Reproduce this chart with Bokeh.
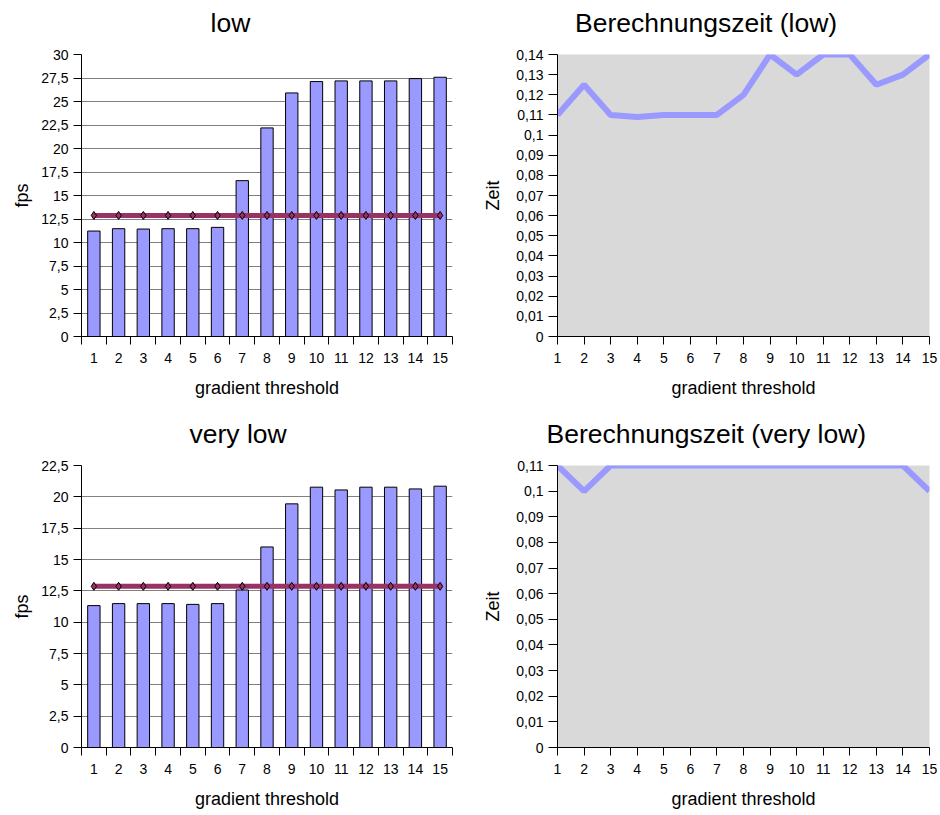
from bokeh.plotting import figure
from bokeh.models import FixedTicker, CustomJSTickFormatter, Title, Range1d
from bokeh.layouts import column, row
from bokeh.embed import file_html
from bokeh.resources import INLINE

FONT = "Liberation Sans"

thresholds = [1, 2, 3, 4, 5, 6, 7, 8, 9, 10, 11, 12, 13, 14, 15]

fps_low = [11.22, 11.47, 11.43, 11.47, 11.47, 11.61, 16.58, 22.19, 25.91,
           27.12, 27.19, 27.19, 27.19, 27.44, 27.58]
ref_low = [12.88, 12.88, 12.88, 12.88, 12.88, 12.88, 12.88, 12.88, 12.88,
           12.88, 12.88, 12.88, 12.88, 12.88, 12.88]

fps_very_low = [11.32, 11.48, 11.48, 11.48, 11.42, 11.48, 12.57, 16.0, 19.44,
                20.77, 20.55, 20.77, 20.77, 20.63, 20.85]
ref_very_low = [12.86, 12.86, 12.86, 12.86, 12.86, 12.86, 12.86, 12.86, 12.86,
                12.86, 12.86, 12.86, 12.86, 12.86, 12.86]

time_low = [0.11, 0.125, 0.11, 0.109, 0.11, 0.11, 0.11, 0.12, 0.14, 0.13,
            0.14, 0.14, 0.125, 0.13, 0.14]
time_very_low = [0.11, 0.10, 0.11, 0.11, 0.11, 0.11, 0.11, 0.11, 0.11, 0.11,
                 0.11, 0.11, 0.11, 0.11, 0.10]

fps_ticks_low = [0, 2.5, 5, 7.5, 10, 12.5, 15, 17.5, 20, 22.5, 25, 27.5, 30]
fps_ticks_very_low = [0, 2.5, 5, 7.5, 10, 12.5, 15, 17.5, 20, 22.5]
time_ticks_low = [0, 0.01, 0.02, 0.03, 0.04, 0.05, 0.06, 0.07, 0.08, 0.09,
                  0.1, 0.11, 0.12, 0.13, 0.14]
time_ticks_very_low = [0, 0.01, 0.02, 0.03, 0.04, 0.05, 0.06, 0.07, 0.08,
                       0.09, 0.1, 0.11]
bar_boundaries = [0.5, 1.5, 2.5, 3.5, 4.5, 5.5, 6.5, 7.5, 8.5, 9.5, 10.5,
                  11.5, 12.5, 13.5, 14.5, 15.5]

BAR_COLOR = "#9999FF"
REF_COLOR = "#993366"
BG_GRAY = "#D9D9D9"
SHIFT = 14

fmt_code = "return (Math.round(tick*1000)/1000).toString().replace('.', ',');"


def style_axes(p):
    for ax in (p.xaxis[0], p.yaxis[0]):
        ax.axis_line_color = "black"
        ax.major_tick_line_color = "black"
        ax.minor_tick_line_color = "black"
        ax.major_label_text_font = FONT
        ax.major_label_text_font_size = "14px"
        ax.major_label_text_color = "black"
        ax.axis_label_text_font = FONT
        ax.axis_label_text_font_size = "18px"
        ax.axis_label_text_font_style = "normal"
        ax.axis_label_text_color = "black"
        ax.major_tick_in = 0
        ax.minor_tick_in = 0
    p.yaxis[0].formatter = CustomJSTickFormatter(code=fmt_code)
    p.yaxis[0].major_tick_out = 8
    p.yaxis[0].minor_tick_out = 0
    p.yaxis[0].major_label_standoff = 5


def add_title(p, text, offset):
    p.add_layout(Title(text=text, align="left", offset=offset,
                       standoff=33, text_font=FONT,
                       text_font_size="26.5px", text_font_style="normal",
                       text_color="black"), "above")


def bar_chart(values, refs, yticks, ymax, height, top, bottom):
    p = figure(width=470, height=height + SHIFT, x_range=Range1d(0.5, 15.5),
               y_range=Range1d(0, ymax), output_backend="svg",
               toolbar_location=None, min_border_left=81, min_border_right=18,
               min_border_top=top + SHIFT, min_border_bottom=bottom,
               outline_line_color=None, border_fill_color=None,
               background_fill_color="white", margin=(-SHIFT, 0, 0, 0))
    p.vbar(x=thresholds, top=values, width=0.5, fill_color=BAR_COLOR,
           line_color="black", line_width=1)
    p.line(x=thresholds, y=refs, line_color=REF_COLOR, line_width=5)
    p.scatter(x=thresholds, y=refs, marker="diamond", size=8,
              fill_color=REF_COLOR, line_color="black", line_width=1)
    p.xgrid.visible = False
    p.ygrid.ticker = FixedTicker(ticks=yticks)
    p.ygrid.grid_line_color = "#808080"
    p.ygrid.grid_line_width = 1
    style_axes(p)
    p.xaxis.ticker = FixedTicker(ticks=thresholds, minor_ticks=bar_boundaries)
    p.xaxis.major_tick_out = 0
    p.xaxis.minor_tick_out = 8
    p.xaxis.major_label_standoff = 8
    p.xaxis.axis_label = "gradient threshold"
    p.xaxis.axis_label_standoff = 12
    p.yaxis.ticker = FixedTicker(ticks=yticks)
    p.yaxis.axis_label = "fps"
    p.yaxis.axis_label_standoff = 6
    return p


def line_chart(values, yticks, ymax, height, top, bottom):
    p = figure(width=470, height=height + SHIFT, x_range=Range1d(1, 15),
               y_range=Range1d(0, ymax), output_backend="svg",
               toolbar_location=None, min_border_left=87, min_border_right=11,
               min_border_top=top + SHIFT, min_border_bottom=bottom,
               outline_line_color=None, border_fill_color=None,
               background_fill_color=BG_GRAY, margin=(-SHIFT, 0, 0, 0))
    p.line(x=thresholds, y=values, line_color=BAR_COLOR, line_width=6)
    p.xgrid.visible = False
    p.ygrid.visible = False
    style_axes(p)
    p.xaxis.ticker = FixedTicker(ticks=thresholds)
    p.xaxis.major_tick_out = 8
    p.xaxis.minor_tick_out = 0
    p.xaxis.major_label_standoff = 8
    p.xaxis.axis_label = "gradient threshold"
    p.xaxis.axis_label_standoff = 12
    p.yaxis.ticker = FixedTicker(ticks=yticks)
    p.yaxis.major_tick_out = 9
    p.yaxis.axis_label = "Zeit"
    p.yaxis.axis_label_standoff = 10
    return p


p1 = bar_chart(fps_low, ref_low, fps_ticks_low, 30, 408, 54, 72)
add_title(p1, "low", 129)
p2 = line_chart(time_low, time_ticks_low, 0.14, 408, 54, 72)
add_title(p2, "Berechnungszeit (low)", 17.5)
p3 = bar_chart(fps_very_low, ref_very_low, fps_ticks_very_low, 22.5, 407, 57, 68)
add_title(p3, "very low", 108)
p4 = line_chart(time_very_low, time_ticks_very_low, 0.11, 407, 57, 68)
add_title(p4, "Berechnungszeit (very low)", -11)

layout = column(row(p1, p2), row(p3, p4))

with open("out.html", "w") as f:
    f.write(file_html(layout, INLINE))
